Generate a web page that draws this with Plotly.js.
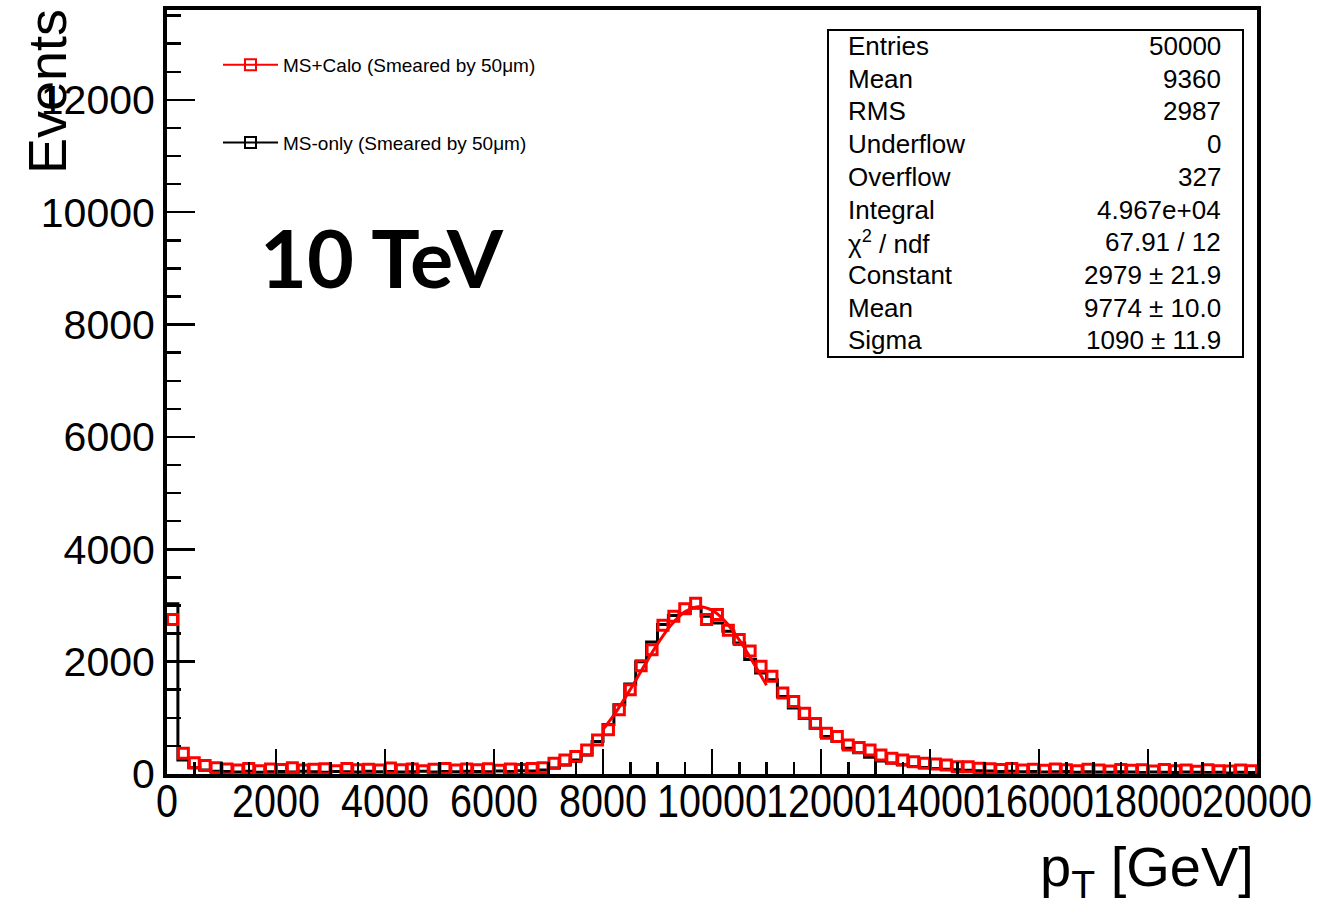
<!DOCTYPE html>
<html>
<head>
<meta charset="utf-8">
<script src="https://cdn.plot.ly/plotly-3.0.1.min.js"></script>
<style>
  html, body { margin: 0; padding: 0; background: #ffffff; }
  #chart { width: 1319px; height: 911px; }
</style>
</head>
<body>
<div id="chart"></div>
<script>
// Histogram binning: 100 bins of 200 GeV from 0 to 20000 GeV
const binWidth = 200;
const xMin = 0;
const xMax = 20000;

// MS+Calo (smeared by 50 um): counts per bin
const msCaloCounts = [
  2750, 370, 200, 150, 110, 90, 70, 100, 60, 90,
  80, 110, 70, 85, 95, 60, 100, 75, 85, 70,
  105, 75, 90, 60, 85, 100, 70, 90, 75, 95,
  65, 90, 80, 100, 113, 190, 250, 310, 429, 607,
  786, 1143, 1500, 1929, 2214, 2650, 2810, 2940, 3040, 2750,
  2840, 2560, 2393, 2190, 1917, 1738, 1440, 1292, 1083, 899,
  726, 667, 518, 470, 429, 339, 280, 250, 220, 190,
  178, 161, 131, 131, 101, 95, 80, 100, 70, 85,
  65, 90, 75, 60, 85, 70, 55, 80, 65, 75,
  55, 80, 60, 70, 50, 75, 60, 55, 70, 60
];

// MS-only (smeared by 50 um): counts per bin
const msOnlyCounts = [
  3030, 250, 110, 70, 50, 45, 35, 50, 30, 40,
  45, 35, 50, 40, 30, 45, 40, 35, 50, 40,
  45, 35, 40, 50, 35, 45, 40, 50, 45, 40,
  55, 45, 60, 55, 71, 107, 161, 250, 339, 577,
  880, 1232, 1600, 2000, 2351, 2661, 2821, 2857, 2958, 2810,
  2690, 2542, 2333, 2036, 1798, 1679, 1381, 1173, 988, 815,
  667, 577, 458, 380, 300, 230, 195, 165, 135, 115,
  100, 85, 75, 65, 60, 55, 45, 50, 40, 45,
  35, 40, 45, 30, 40, 35, 30, 40, 35, 25,
  35, 30, 25, 35, 30, 25, 30, 20, 30, 25
];

// Gaussian fit curve over the fit range (GeV, events)
const fitX = [8000, 8250, 8500, 8750, 9000, 9250, 9500, 9750, 10000, 10250, 10500, 10750, 11000];
const fitY = [792, 1121, 1504, 1916, 2315, 2654, 2886, 2978, 2916, 2708, 2387, 1995, 1582];

// Statistics box
const statLabels = ["Entries", "Mean", "RMS", "Underflow", "Overflow", "Integral",
                    "\u03c7<sup>2</sup> / ndf", "Constant", "Mean", "Sigma"];
const statValues = ["50000", "9360", "2987", "0", "327", "4.967e+04",
                    "67.91 / 12", "2979 \u00b1 21.9", "9774 \u00b1 10.0", "1090 \u00b1 11.9"];

const seriesNames = ["MS+Calo (Smeared by 50\u03bcm)", "MS-only (Smeared by 50\u03bcm)"];
const energyLabel = "10 TeV";

// ---- derived bin geometry ----
const nBins = msOnlyCounts.length;
const binCenters = msCaloCounts.map((_, i) => xMin + (i + 0.5) * binWidth);
const binEdges = [];
for (let i = 0; i <= nBins; i++) binEdges.push(xMin + i * binWidth);
const stepY = msOnlyCounts.concat([msOnlyCounts[nBins - 1]]);

// plot frame in pixels (for placing text in paper coordinates)
const M = { l: 167, r: 62, t: 10, b: 137 };
const W = 1319 - M.l - M.r;
const H = 911 - M.t - M.b;
const px2x = px => (px - M.l) / W;
const py2y = py => (M.t + H - py) / H;

const FONT = "Liberation Sans, Arial, Helvetica, sans-serif";

const traces = [
  {
    // MS-only histogram outline
    x: binEdges, y: stepY, type: "scatter", mode: "lines",
    line: { shape: "hv", color: "#000000", width: 3 },
    showlegend: false, hoverinfo: "skip"
  },
  {
    // MS+Calo histogram as open squares
    x: binCenters, y: msCaloCounts, type: "scatter", mode: "markers",
    marker: { symbol: "square-open", size: 10, color: "#ff0000", line: { color: "#ff0000", width: 3 } },
    cliponaxis: false, showlegend: false, hoverinfo: "skip"
  },
  {
    // Gaussian fit
    x: fitX, y: fitY, type: "scatter", mode: "lines",
    line: { shape: "spline", color: "#ff0000", width: 3 },
    showlegend: false, hoverinfo: "skip"
  },
  {
    x: [null], y: [null], type: "scatter", mode: "lines+markers", name: seriesNames[0],
    legendgroup: "a",
    line: { color: "#ff0000", width: 2 },
    marker: { symbol: "square-open", size: 11, color: "#ff0000", line: { color: "#ff0000", width: 2 } }
  },
  {
    x: [null], y: [null], type: "scatter", mode: "lines+markers", name: seriesNames[1],
    legendgroup: "b",
    line: { color: "#000000", width: 2 },
    marker: { symbol: "square-open", size: 11, color: "#000000", line: { color: "#000000", width: 2 } }
  }
];

const annotations = [];
const rowTop = 46, rowStep = 32.7;
statLabels.forEach((lab, k) => {
  const y = py2y(rowTop + k * rowStep);
  annotations.push({ xref: "paper", yref: "paper", x: px2x(846), y: y, xanchor: "left", yanchor: "middle",
    text: lab, showarrow: false, font: { family: FONT, size: 26, color: "#000" } });
  annotations.push({ xref: "paper", yref: "paper", x: px2x(1223), y: y, xanchor: "right", yanchor: "middle",
    text: statValues[k], showarrow: false, font: { family: FONT, size: 26, color: "#000" } });
});

annotations.push({ xref: "paper", yref: "paper", x: px2x(382), y: py2y(256), xanchor: "center", yanchor: "middle",
  text: "<b>" + energyLabel + "</b>", showarrow: false,
  font: { family: "Lato, Liberation Sans, sans-serif", size: 81, color: "#000", weight: 900 } });

annotations.push({ xref: "paper", yref: "paper", x: px2x(47), y: py2y(92), xanchor: "center", yanchor: "middle",
  text: "Events", textangle: -90, showarrow: false, font: { family: FONT, size: 54, color: "#000" } });

annotations.push({ xref: "paper", yref: "paper", x: px2x(1256), y: py2y(833), xanchor: "right", yanchor: "top",
  text: "p<sub>T</sub> [GeV]", showarrow: false, font: { family: FONT, size: 56, color: "#000" } });

const layout = {
  width: 1319, height: 911,
  margin: M,
  paper_bgcolor: "#ffffff", plot_bgcolor: "#ffffff",
  font: { family: FONT, color: "#000" },
  showlegend: true,
  legend: {
    x: px2x(218), y: py2y(46), xanchor: "left", yanchor: "top",
    bgcolor: "rgba(0,0,0,0)", borderwidth: 0,
    font: { family: FONT, size: 19, color: "#000" },
    tracegroupgap: 50, itemwidth: 55
  },
  xaxis: {
    range: [xMin, xMax], dtick: 2000, tick0: 0, tickformat: "d", tickangle: 0,
    ticks: "inside", ticklen: 25, tickwidth: 2.5, tickcolor: "#000",
    minor: { dtick: 500, ticks: "inside", ticklen: 12, tickwidth: 2.5, tickcolor: "#000" },
    showline: true, linecolor: "#000", linewidth: 4, mirror: true,
    showgrid: false, zeroline: false,
    ticklabeloverflow: "allow", ticklabelstandoff: -16,
    tickfont: { family: FONT, size: 46, color: "#000" }
  },
  yaxis: {
    range: [0, 13600], dtick: 2000, tick0: 0, tickformat: "d",
    ticks: "inside", ticklen: 28, tickwidth: 2.5, tickcolor: "#000",
    minor: { dtick: 500, ticks: "inside", ticklen: 14, tickwidth: 2.5, tickcolor: "#000" },
    showline: true, linecolor: "#000", linewidth: 4, mirror: true,
    showgrid: false, zeroline: false,
    tickfont: { family: FONT, size: 41, color: "#000" }
  },
  shapes: [
    { type: "rect", xref: "paper", yref: "paper", x0: px2x(828), x1: px2x(1243), y0: py2y(357), y1: py2y(30),
      line: { color: "#000", width: 2 }, fillcolor: "#ffffff", layer: "above" }
  ],
  annotations: annotations
};

Plotly.newPlot("chart", traces, layout, { staticPlot: true, displayModeBar: false }).then(gd => {
  // condensed look for the p_T tick numbers: squeeze each label around its own centre
  gd.querySelectorAll(".xtick text").forEach(t => {
    const tr = t.getAttribute("transform") || "";
    t.setAttribute("transform", tr + " scale(0.86,1)");
  });
});
</script>
</body>
</html>
